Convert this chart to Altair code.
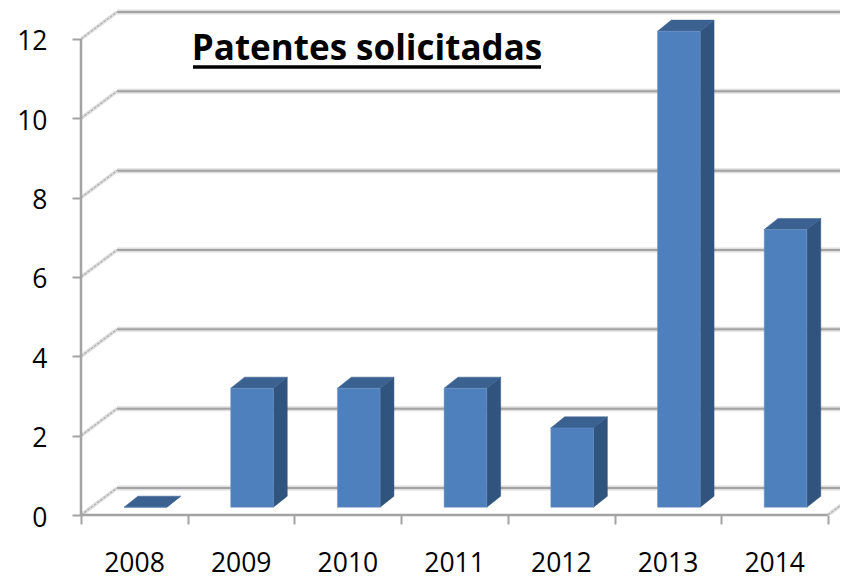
import altair as alt
import pandas as pd

years = ["2008", "2009", "2010", "2011", "2012", "2013", "2014"]
values = [0, 3, 3, 3, 2, 12, 7]
y_ticks = [0, 2, 4, 6, 8, 10, 12]
title_text = "Patentes solicitadas"

# 3-D projection, in axis units
WALL_DX, WALL_DY = 0.3375, 0.68
BAR_DX, BAR_DY = 0.13, 0.28
BAR_X0, BAR_Y0 = 0.403, 0.195
BAR_W = 0.40
N = len(years)
PW, PH = 759, 507
XMAX, YMAX = PW / 106.7, PH / 39.67

xs = alt.Scale(domain=[0, XMAX], nice=False, zero=False)
ys = alt.Scale(domain=[0, YMAX], nice=False, zero=False)
FONT = "Open Sans"
GRAY = "#a3a3a3"

x_ax = alt.Axis(values=list(range(N + 1)), domain=False, grid=False, tickSize=9, tickWidth=2, tickColor=GRAY,
                labelFont=FONT, labelFontSize=26.5, labelColor="#000000", labelPadding=26, labelOffset=53,
                labelOverlap=False, labelFlush=False, title=None,
                labelExpr="%s[datum.value] || ''" % str(years))
y_ax = alt.Axis(values=y_ticks, domain=False, grid=False, tickSize=9, tickWidth=2, tickColor=GRAY,
                labelFont=FONT, labelFontSize=26.5, labelColor="#000000", labelPadding=25, labelOffset=3,
                format="d", title=None)


def X(f="x"):
    return alt.X(f"{f}:Q", scale=xs, axis=x_ax)


def Y(f="y"):
    return alt.Y(f"{f}:Q", scale=ys, axis=y_ax)


# back wall lines
back, slant = [], []
for v in y_ticks:
    back += [dict(k=v, x=WALL_DX, y=v + WALL_DY), dict(k=v, x=N + WALL_DX, y=v + WALL_DY)]
    slant += [dict(k=v, x=0, y=v), dict(k=v, x=WALL_DX, y=v + WALL_DY)]
slant += [dict(k=-1, x=N, y=0), dict(k=-1, x=N + WALL_DX, y=WALL_DY)]
back, slant = pd.DataFrame(back), pd.DataFrame(slant)

# bars
front, side, top = [], [], []
for i, (yr, v) in enumerate(zip(years, values)):
    xl = i + BAR_X0
    xr = xl + BAR_W
    y0, y1 = BAR_Y0, v + BAR_Y0
    front.append(dict(k=yr, x=xl, x2=xr, y=y0, y2=y1))
    side += [dict(k=yr, x=xr, y=y0, y2=y1), dict(k=yr, x=xr + BAR_DX, y=y0 + BAR_DY, y2=y1 + BAR_DY)]
    top += [dict(k=yr, y=y1, x=xl, x2=xr), dict(k=yr, y=y1 + BAR_DY, x=xl + BAR_DX, x2=xr + BAR_DX)]
front, side, top = pd.DataFrame(front), pd.DataFrame(side), pd.DataFrame(top)

back_glow = alt.Chart(back).mark_line(color="#dedede", strokeWidth=5, clip=True).encode(x=X(), y=Y(), detail="k:N")
back_line = alt.Chart(back).mark_line(color=GRAY, strokeWidth=2, clip=True).encode(x=X(), y=Y(), detail="k:N")
slant_glow = alt.Chart(slant).mark_line(color="#e4e4e4", strokeWidth=4, clip=True).encode(x=X(), y=Y(), detail="k:N")
slant_line = alt.Chart(slant).mark_line(color="#b5b5b5", strokeWidth=1.5, strokeDash=[3, 1], clip=True).encode(x=X(), y=Y(), detail="k:N")

left_line = alt.Chart(pd.DataFrame({"y": [0], "y2": [12]})).mark_rule(color=GRAY, strokeWidth=2.5).encode(
    x=alt.value(0), y=Y(), y2="y2:Q")
floor_line = alt.Chart(pd.DataFrame({"x": [0], "x2": [N]})).mark_rule(color=GRAY, strokeWidth=2.5).encode(
    y=alt.value(PH), x=X(), x2="x2:Q")

bar_side = alt.Chart(side).mark_area(color="#31547f", stroke="#31547f", strokeWidth=0.5).encode(x=X(), y=Y(), y2="y2:Q", detail="k:N")
bar_top = alt.Chart(top).mark_area(orient="horizontal", color="#3a6190", stroke="#3a6190", strokeWidth=0.5).encode(y=Y(), x=X(), x2="x2:Q", detail="k:N")
bar_front = alt.Chart(front).mark_rect(color="#4e80bd", stroke="#6f94c4", strokeWidth=0.5).encode(x=X(), x2="x2:Q", y=Y(), y2="y2:Q")

title = alt.Chart(pd.DataFrame({"t": [title_text]})).mark_text(
    font=FONT, fontSize=35, fontWeight="bold", color="#000000", align="center", baseline="alphabetic"
).encode(text="t:N", x=alt.value(286), y=alt.value(52))
underline = alt.Chart(pd.DataFrame({"t": [title_text]})).mark_rule(color="#000000", strokeWidth=3.5).encode(
    x=alt.value(112), x2=alt.value(460), y=alt.value(59))

chart = alt.layer(
    back_glow, back_line, slant_glow, slant_line, left_line, floor_line,
    bar_side, bar_top, bar_front, title, underline
).properties(
    width=PW, height=PH,
    padding={"left": 73, "top": 0, "right": 0, "bottom": 64},
    autosize=alt.AutoSizeParams(type="none"),
    background="#ffffff",
).configure_view(stroke=None)

chart.save("out.html", embed_options={"renderer": "svg", "actions": False})
